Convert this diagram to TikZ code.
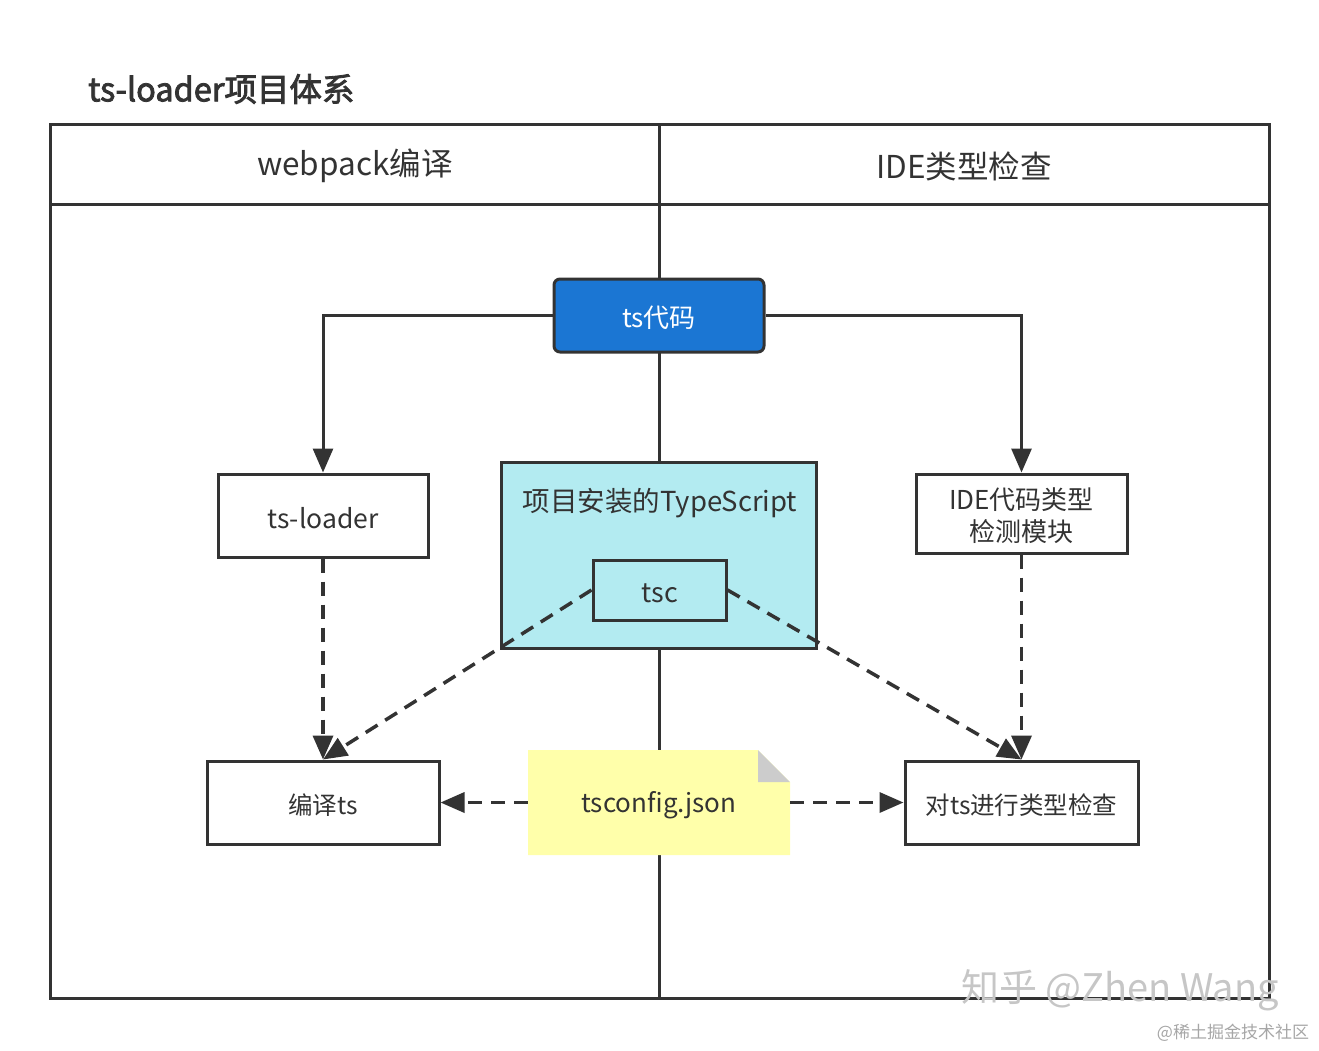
\documentclass[tikz,border=0pt]{standalone}
\usepackage{fontspec}
\setmainfont{Noto Sans CJK SC}
\newfontfamily\titlefont[FakeBold=2.5]{Noto Sans CJK SC}
\usetikzlibrary{arrows.meta}
\definecolor{ink}{HTML}{333333}
\definecolor{codeblue}{HTML}{1B76D3}
\definecolor{tsfill}{HTML}{B3EBF1}
\definecolor{notefill}{HTML}{FFFFAA}
\definecolor{foldgray}{HTML}{CCCCCC}
\newcommand{\fs}[1]{\fontsize{#1}{32}\selectfont}
\tikzset{
  frameline/.style={draw=ink, line width=3pt},
  box/.style={draw=ink, line width=3pt, fill=white, inner sep=0pt, text=ink, font=\fs{24}, align=center},
  solidarrow/.style={draw=ink, line width=3pt, -{Triangle[length=24pt,width=20pt]}},
  dasharrow/.style={draw=ink, line width=3.5pt, dash pattern=on 14pt off 9pt, -{Triangle[length=24pt,width=20pt]}},
  headtext/.style={text=ink, font=\fs{31.5}, inner sep=0pt},
  plainlabel/.style={inner sep=0pt},
  txt/.style={text=ink, inner sep=0pt, align=center}
}
\begin{document}
\begin{tikzpicture}[x=1pt,y=-1pt]
\useasboundingbox (0,0) rectangle (1319,1050);
% title
\node[text=ink, font=\titlefont\fontsize{32.5}{36}\selectfont, anchor=west, inner sep=0pt] (title) at (88,89) {ts-loader项目体系};
% frame
\draw[frameline] (50,124) rectangle (1269,998);
\draw[frameline] (50,204) -- (1269,204);
\draw[frameline] (659,124) -- (659,998);
\node[headtext] (h1) at (355,166) {webpack编译};
\node[headtext] (h2) at (964,166) {IDE类型检查};
% tsconfig note shape
\fill[notefill] (528,750) -- (758,750) -- (790,782) -- (790,855) -- (528,855) -- cycle;
\fill[foldgray] (758,750) -- (790,782) -- (758,782) -- cycle;
\node[plainlabel, minimum width=262pt, minimum height=105pt] (cfg) at (659,802.5) {};
\node[txt, font=\fs{26}] (cfgtext) at (659,805) {tsconfig.json};
% boxes
\node[box, fill=codeblue, rounded corners=6pt, minimum width=210pt, minimum height=73pt] (code) at (659,315.5) {};
\node[txt, text=white, font=\fs{26}] (codetext) at (659,318) {ts代码};
\node[box, minimum width=210pt, minimum height=83pt] (loader) at (323,515.5) {};
\node[txt, font=\fs{26.5}] (loadertext) at (323,518) {ts-loader};
\node[box, minimum width=211pt, minimum height=79pt] (ide) at (1021.5,513.5) {};
\node[txt, font=\fs{26}] (idetext) at (1021.5,516) {IDE代码类型\\检测模块};
\node[box, fill=tsfill, minimum width=315pt, minimum height=186pt] (tsbox) at (658.5,555) {};
\node[txt, font=\fs{27.5}] (tslabel) at (660,503) {项目安装的TypeScript};
\node[box, fill=tsfill, minimum width=133pt, minimum height=60pt] (tsc) at (659.5,590) {};
\node[txt, font=\fs{27}] (tsctext) at (660,593) {tsc};
\node[box, minimum width=232pt, minimum height=83pt] (compile) at (323,802.5) {};
\node[txt, font=\fs{24.5}] (compiletext) at (323,805) {编译ts};
\node[box, minimum width=233pt, minimum height=83pt] (check) at (1021.5,802.5) {};
\node[txt, font=\fs{24.5}] (checktext) at (1021.5,805) {对ts进行类型检查};
% connectors
\draw[solidarrow] (code.west) -| (loader.north);
\draw[solidarrow] (code.east) -| (ide.north);
\draw[dasharrow] (loader.south) -- (compile.north);
\draw[dasharrow] (tsc.west) -- (compile.north);
\draw[dasharrow] (tsc.east) -- (check.north);
\draw[dasharrow] (ide.south) -- (check.north);
\draw[dasharrow] (cfg.west) -- (compile.east);
\draw[dasharrow] (cfg.east) -- (check.west);
% watermarks
\node[plainlabel, text=gray!45, font=\fontsize{38}{44}\selectfont] (wm1) at (1120,990) {知乎 @Zhen Wang};
\node[plainlabel, text=gray!70, font=\fontsize{17}{20}\selectfont] (wm2) at (1233,1033) {@稀土掘金技术社区};
\end{tikzpicture}
\end{document}
